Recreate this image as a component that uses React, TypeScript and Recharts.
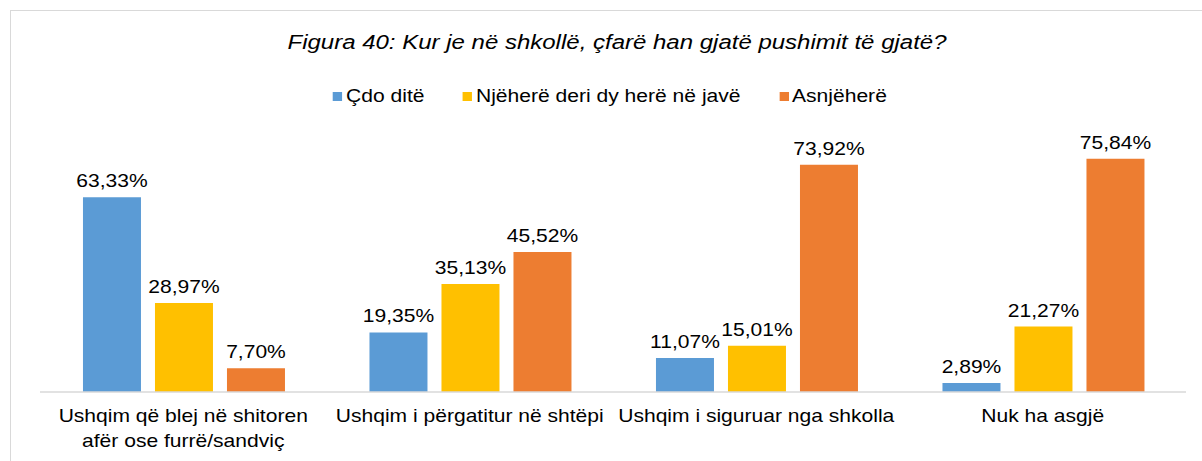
import React from 'react';
import { BarChart, Bar, XAxis, YAxis, LabelList } from 'recharts';

const categories = [
  'Ushqim që blej në shitoren\nafër ose furrë/sandviç',
  'Ushqim i përgatitur në shtëpi',
  'Ushqim i siguruar nga shkolla',
  'Nuk ha asgjë',
];
const cdoDite = [63.33, 19.35, 11.07, 2.89];
const njehere = [28.97, 35.13, 15.01, 21.27];
const asnjehere = [7.7, 45.52, 73.92, 75.84];

const series = [
  { key: 'cdo', name: 'Çdo ditë', color: '#5B9BD5' },
  { key: 'nje', name: 'Njëherë deri dy herë në javë', color: '#FFC000' },
  { key: 'asn', name: 'Asnjëherë', color: '#ED7D31' },
];

const data = categories.map((c, i) => ({
  name: c,
  cdo: cdoDite[i],
  nje: njehere[i],
  asn: asnjehere[i],
}));

const FONT = '"Liberation Sans", Arial, sans-serif';
// the source text is a bit wider than Arial, so stretch it sideways
const SX = 1.17;

const fmt = (v: any) => Number(v).toFixed(2).replace('.', ',') + '%';

const CategoryTick = (props: any) => {
  const { x, y, payload } = props;
  const lines = String(payload.value).split('\n');
  return (
    <g transform={`translate(${x},${y})`}>
      {lines.map((l, i) => (
        <g key={i} transform={`translate(0,${22 + i * 25}) scale(${SX},1)`}>
          <text x={0} y={0} textAnchor="middle" fontSize={18} fontFamily={FONT} fill="#000">
            {l}
          </text>
        </g>
      ))}
    </g>
  );
};

const ValueLabel = (props: any) => {
  const { x, y, width, value } = props;
  return (
    <g transform={`translate(${x + width / 2},${y - 10}) scale(${SX},1)`}>
      <text x={0} y={0} textAnchor="middle" fontSize={18} fontFamily={FONT} fill="#000">
        {fmt(value)}
      </text>
    </g>
  );
};

export default function App() {
  return (
    <div style={{ position: 'absolute', left: 0, top: 0, width: 1202, height: 461, background: '#fff', overflow: 'hidden' }}>
      <div
        style={{
          position: 'absolute',
          left: 10,
          top: 10,
          width: 1192,
          height: 451,
          borderLeft: '1px solid #d9d9d9',
          borderTop: '1px solid #d9d9d9',
        }}
      />
      <div
        style={{
          position: 'absolute',
          left: 0,
          top: 31,
          width: 1234,
          textAlign: 'center',
          fontFamily: FONT,
          fontStyle: 'italic',
          fontSize: 20,
          color: '#000',
          transform: 'scaleX(1.2)',
          transformOrigin: '617px 0',
        }}
      >
        Figura 40: Kur je në shkollë, çfarë han gjatë pushimit të gjatë?
      </div>
      <div
        style={{
          position: 'absolute',
          left: 0,
          top: 86,
          width: 1220,
          display: 'flex',
          justifyContent: 'center',
          fontFamily: FONT,
          fontSize: 18,
          color: '#000',
          transform: `scaleX(${SX})`,
          transformOrigin: '610px 0',
        }}
      >
        {series.map((s, i) => (
          <div key={s.key} style={{ display: 'flex', alignItems: 'center', marginRight: i < series.length - 1 ? 33 : 0 }}>
            <span style={{ width: 8, height: 9, background: s.color, display: 'inline-block', marginRight: 3 }} />
            <span>{s.name}</span>
          </div>
        ))}
      </div>
      <BarChart
        width={1202}
        height={461}
        data={data}
        margin={{ top: 146, right: 16, bottom: 0, left: 40 }}
        barCategoryGap="15%"
        barGap={14}
      >
        <XAxis
          dataKey="name"
          height={69}
          axisLine={{ stroke: '#d9d9d9', strokeWidth: 1.5 }}
          tickLine={false}
          interval={0}
          tick={<CategoryTick />}
        />
        <YAxis hide domain={[0, 80]} />
        {series.map((s) => (
          <Bar key={s.key} dataKey={s.key} name={s.name} fill={s.color} isAnimationActive={false}>
            <LabelList dataKey={s.key} content={<ValueLabel />} />
          </Bar>
        ))}
      </BarChart>
    </div>
  );
}
